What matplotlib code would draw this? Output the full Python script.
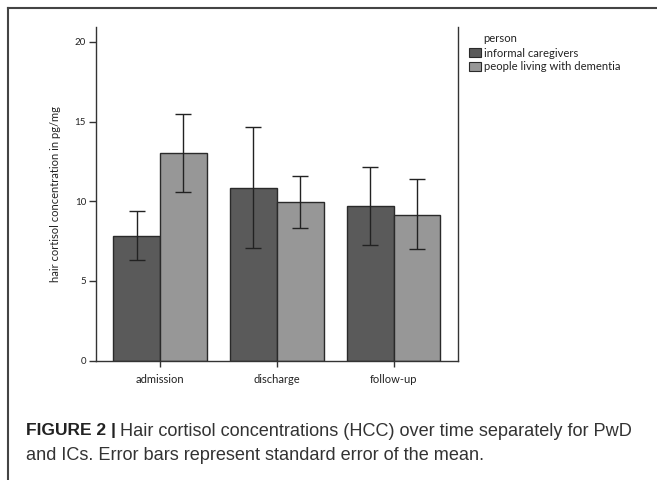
import numpy as np
import matplotlib
matplotlib.use("Agg")
from matplotlib import pyplot as plt
from matplotlib.patches import Patch
from matplotlib.lines import Line2D

# values (bar height, lower / upper error bar end)
groups = ['admission', 'discharge', 'follow-up']
ic_mean = [7.82, 10.85, 9.70]
ic_lo = [6.29, 7.06, 7.27]
ic_hi = [9.39, 14.68, 12.17]
pwd_mean = [13.01, 9.95, 9.16]
pwd_lo = [10.58, 8.32, 6.98]
pwd_hi = [15.48, 11.59, 11.38]
series_names = ['informal caregivers', 'people living with dementia']
yticks = [0, 5, 10, 15, 20]

ic_col = '#5a5a5a'
pwd_col = '#979797'
edge = '#2a2a2a'
chart_font = 'Lato'

fig = plt.figure(figsize=(6.57, 4.80), dpi=100)
W, H = 657., 480.
ax = fig.add_axes([95.7/W, 1-360.5/H, (458-95.7)/W, (360.5-27)/H])

x = np.arange(len(groups))
w = 0.4
ic_err = [np.array(ic_mean) - np.array(ic_lo), np.array(ic_hi) - np.array(ic_mean)]
pwd_err = [np.array(pwd_mean) - np.array(pwd_lo), np.array(pwd_hi) - np.array(pwd_mean)]

ax.bar(x - w/2, ic_mean, w, color=ic_col, edgecolor=edge, linewidth=1.0)
ax.bar(x + w/2, pwd_mean, w, color=pwd_col, edgecolor=edge, linewidth=1.0)
ax.errorbar(x - w/2, ic_mean, yerr=ic_err, fmt='none', ecolor='#222222',
            elinewidth=1.0, capsize=5.5, capthick=1.0)
ax.errorbar(x + w/2, pwd_mean, yerr=pwd_err, fmt='none', ecolor='#222222',
            elinewidth=1.0, capsize=5.5, capthick=1.0)

ax.set_xlim(-0.55, 2.55)
ax.set_ylim(0, 20.94)
ax.set_yticks(yticks)
ax.set_yticklabels([str(t) for t in yticks], fontsize=7, family=chart_font, color='#222222')
ax.set_xticks(x)
ax.set_xticklabels(groups, fontsize=8, family=chart_font, color='#222222')
ax.tick_params(axis='y', length=5, width=1, color='#333333', pad=2)
ax.tick_params(axis='x', length=4, width=1, color='#333333', pad=6)
ax.spines['top'].set_visible(False)
for s in ['left', 'bottom', 'right']:
    ax.spines[s].set_color('#333333')
    ax.spines[s].set_linewidth(1.0)
ax.set_ylabel('hair cortisol concentration in pg/mg', fontsize=8, family=chart_font,
              color='#222222')
ax.yaxis.set_label_coords(-0.097, 0.498)

# legend outside, on the right
handles = [Patch(facecolor=ic_col, edgecolor=edge, linewidth=0.8),
           Patch(facecolor=pwd_col, edgecolor=edge, linewidth=0.8)]
leg = fig.legend(handles, series_names, loc='upper left',
                 bbox_to_anchor=(463/W, 1-42/H), frameon=False, borderpad=0,
                 handlelength=1.1, handleheight=0.9, handletextpad=0.25,
                 labelspacing=0.25, prop={'family': chart_font, 'size': 8.1})
for t in leg.get_texts():
    t.set_color('#222222')
fig.text(483/W, 1-39/H, 'person', fontsize=8.1, family=chart_font, color='#222222',
         va='center', ha='left')

# frame lines of the figure panel
fig.add_artist(Line2D([8/W, 1], [1-8/H, 1-8/H], color='#444444', lw=1.5))
fig.add_artist(Line2D([8/W, 8/W], [0, 1-8/H], color='#444444', lw=1.5))

# caption
cap1 = fig.text(26/W, 1-431/H, 'FIGURE 2 |', fontsize=12.5, fontweight='bold',
                family='Liberation Sans', color='#222222', va='center', ha='left')
fig.canvas.draw()
bb = cap1.get_window_extent(renderer=fig.canvas.get_renderer())
fig.text(bb.x1/W + 4/W, 1-431/H,
         'Hair cortisol concentrations (HCC) over time separately for PwD',
         fontsize=13.1, family='Liberation Sans', color='#333333', va='center', ha='left')
fig.text(26/W, 1-456/H, 'and ICs. Error bars represent standard error of the mean.',
         fontsize=13.1, family='Liberation Sans', color='#333333', va='center', ha='left')

fig.savefig('out.png', dpi=100)
